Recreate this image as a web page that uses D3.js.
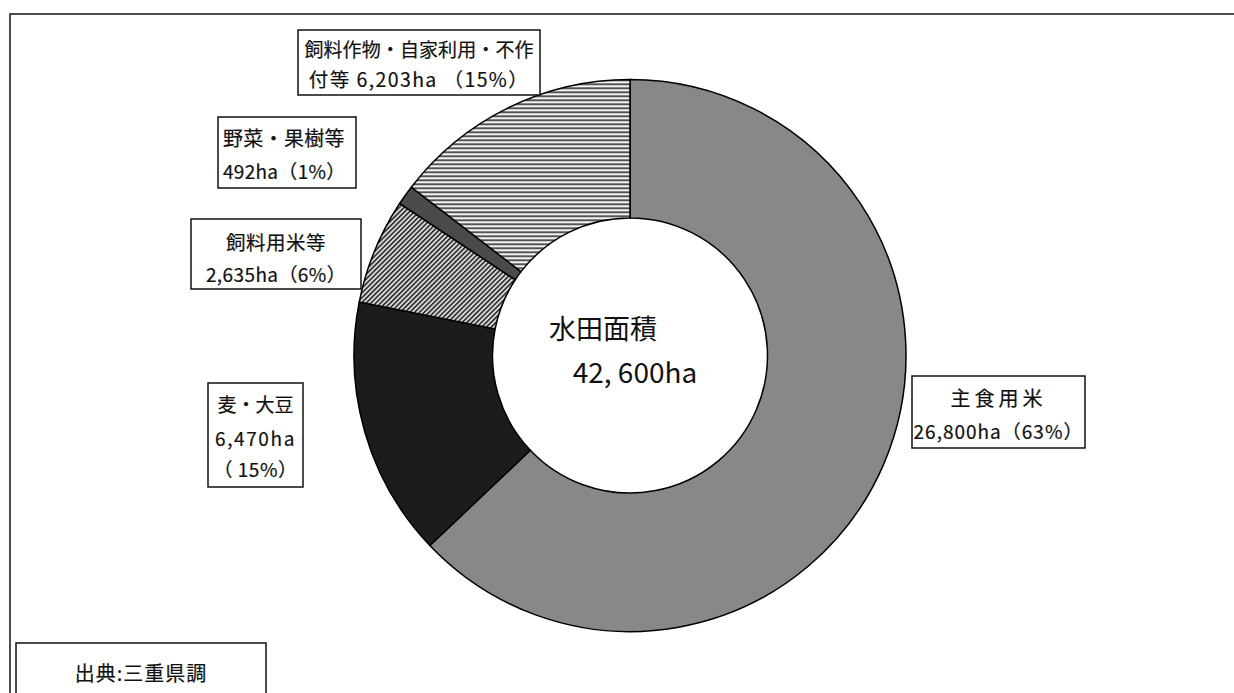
<!DOCTYPE html>
<html><head><meta charset="utf-8">
<script src="https://cdn.jsdelivr.net/npm/d3@7"></script>
<style>
html,body{margin:0;padding:0;background:#fff;}
svg{display:block;}
text{font-family:"Noto Sans CJK JP","Noto Sans",sans-serif;fill:#111;stroke:#111;stroke-width:0.2px;}
text.center{stroke-width:0;}
</style></head>
<body>
<svg id="chart" width="1234" height="693"></svg>
<script>
// ---- data ----
const categories = ["主食用米", "麦・大豆", "飼料用米等", "野菜・果樹等", "飼料作物・自家利用・不作付等"];
const areas = [26800, 6470, 2635, 492, 6203];
const percents = [63, 15, 6, 1, 15];
const labelLines = [
  ["主食用米", "26,800ha（63%）"],
  ["麦・大豆", "6,470ha", "（ 15%）"],
  ["飼料用米等", "2,635ha（6%）"],
  ["野菜・果樹等", "492ha（1%）"],
  ["飼料作物・自家利用・不作", "付等 6,203ha （15%）"]
];
const centerTitle = "水田面積";
const centerTotal = "42, 600ha";
const sourceNote = "出典:三重県調";

// ---- drawing ----
const svg = d3.select("#chart");
const defs = svg.append("defs");

// horizontal stripes
const ph = defs.append("pattern").attr("id", "pHoriz").attr("patternUnits", "userSpaceOnUse")
  .attr("width", 8).attr("height", 4);
ph.append("rect").attr("width", 8).attr("height", 4).attr("fill", "#f4f4f4");
ph.append("rect").attr("y", 0).attr("width", 8).attr("height", 1.4).attr("fill", "#111");
// diagonal stripes (////)
const pd = defs.append("pattern").attr("id", "pDiag").attr("patternUnits", "userSpaceOnUse")
  .attr("width", 3.4).attr("height", 3.4).attr("patternTransform", "rotate(45)");
pd.append("rect").attr("width", 3.4).attr("height", 3.4).attr("fill", "#d8d8d8");
pd.append("rect").attr("width", 1.5).attr("height", 3.4).attr("fill", "#222");

const fills = ["#888888", "#1c1c1c", "url(#pDiag)", "#4a4a4a", "url(#pHoriz)"];

// outer frame
svg.append("rect").attr("x", 10).attr("y", 14).attr("width", 1260).attr("height", 720)
  .attr("fill", "none").attr("stroke", "#222").attr("stroke-width", 1.6);

const cx = 630, cy = 355.5, rOuter = 276, rInner = 137.5;
const pie = d3.pie().sort(null).value(d => d)(areas);
const arc = d3.arc().innerRadius(rInner).outerRadius(rOuter);
const g = svg.append("g").attr("transform", `translate(${cx},${cy})`);
g.selectAll("path").data(pie).join("path")
  .attr("d", arc)
  .attr("fill", (d, i) => fills[i])
  .attr("stroke", "#000").attr("stroke-width", 1.5);

// center text
g.append("text").attr("class", "center").attr("x", -27).attr("y", -28).attr("text-anchor", "middle")
  .attr("dominant-baseline", "central").style("font-size", "27px").text(centerTitle);
g.append("text").attr("class", "center").attr("x", 5).attr("y", 15).attr("text-anchor", "middle")
  .attr("dominant-baseline", "central").style("font-size", "28px").text(centerTotal);

// label boxes
const boxes = [
  {x: 912, y: 376, w: 173, h: 72, fs: [20, 19], ls: [4, 1], ly: [21, 54], anchor: "middle", tx: 86.5},
  {x: 208, y: 383, w: 95, h: 104, fs: [19, 19, 19], ls: [0, 1.6, 0.5], ly: [20, 54, 85], anchor: "middle", tx: 47.5},
  {x: 191, y: 219, w: 170, h: 70, fs: [19.5, 19], ls: [0.5, 0.4], ly: [22, 54], anchor: "middle", tx: 85},
  {x: 218, y: 117, w: 138, h: 71, fs: [20, 19], ls: [0.3, 0.3], ly: [20, 53], anchor: "start", tx: 5},
  {x: 298, y: 30, w: 242, h: 65, fs: [19, 19.5], ls: [0.1, 1.4], ly: [18, 48], anchor: "middle", tx: 121}
];
boxes.forEach((b, i) => {
  const bg = svg.append("g").attr("transform", `translate(${b.x},${b.y})`);
  bg.append("rect").attr("width", b.w).attr("height", b.h)
    .attr("fill", "#fff").attr("stroke", "#111").attr("stroke-width", 1.5);
  labelLines[i].forEach((t, j) => {
    bg.append("text").attr("x", b.tx).attr("y", b.ly[j])
      .attr("text-anchor", b.anchor).attr("dominant-baseline", "central")
      .style("font-size", b.fs[j] + "px").style("letter-spacing", b.ls[j] + "px").text(t);
  });
});

// source box
const sb = svg.append("g").attr("transform", "translate(16,643)");
sb.append("rect").attr("width", 250).attr("height", 80)
  .attr("fill", "#fff").attr("stroke", "#111").attr("stroke-width", 1.5);
sb.append("text").attr("x", 125).attr("y", 29).attr("text-anchor", "middle")
  .attr("dominant-baseline", "central").style("font-size", "20px").style("letter-spacing", "1px").text(sourceNote);
</script>
</body></html>
